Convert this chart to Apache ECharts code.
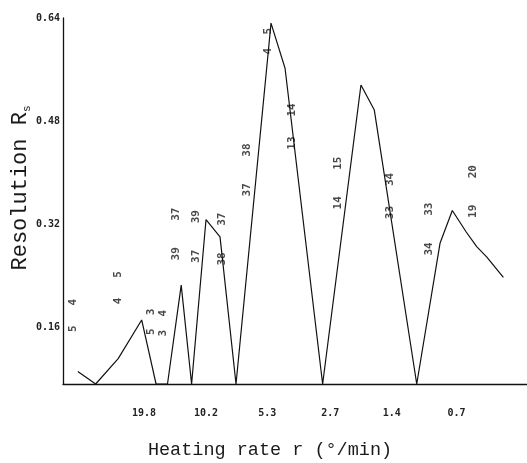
<!DOCTYPE html>
<html>
<head>
<meta charset="utf-8">
<script src="https://cdn.jsdelivr.net/npm/echarts@6/dist/echarts.min.js"></script>
<style>
  html, body { margin: 0; padding: 0; background: #ffffff; }
  #chart { width: 527px; height: 463px; }
</style>
</head>
<body>
<div id="chart"></div>
<script>
// Resolution of the critical peak pair versus heating rate (log scale, fast to slow)
const heatingRates = [40.2, 33.2, 26.1, 20.3, 17.4, 15.4, 13.3, 11.9, 10.2, 8.78, 7.40,
  5.24, 5.09, 4.38, 2.93, 1.945, 1.686, 1.071, 0.835, 0.732, 0.632, 0.564, 0.507, 0.424];
const resolution = [0.091, 0.0715, 0.111, 0.171, 0.0715, 0.0715, 0.225, 0.0715, 0.327, 0.300, 0.0715,
  0.588, 0.632, 0.562, 0.0715, 0.536, 0.497, 0.0715, 0.290, 0.341, 0.308, 0.285, 0.269, 0.237];

// Critical pair labels (compound numbers), placed at a rate / resolution position
const pairRates = [42.3, 26.1, 18.37, 16.16, 13.99, 11.39, 8.57, 6.58, 5.26, 4.045, 2.479, 1.426, 0.9395, 0.585];
const pairHeights = [0.178, 0.221, 0.168, 0.166, 0.3045, 0.3006, 0.2967, 0.404, 0.604, 0.4715, 0.3837, 0.3635, 0.3122, 0.3705];
const pairTexts = ['5   4', '4   5', '5  3', '3  4', '39    37', '37    39', '38    37', '37    38',
  '4  5', '13   14', '14    15', '33   34', '34    33', '19    20'];

// Axis ticks
const rateTicks = [19.8, 10.2, 5.3, 2.7, 1.4, 0.7];
const resolutionTicks = [0.16, 0.32, 0.48, 0.64];

const lineData = heatingRates.map((r, i) => [r, resolution[i]]);
const pairData = pairRates.map((r, i) => ({ value: [r, pairHeights[i]], text: pairTexts[i] }));

const chart = echarts.init(document.getElementById('chart'), null, { renderer: 'canvas' });

chart.setOption({
  animation: false,
  backgroundColor: '#ffffff',
  grid: { left: 63, right: 0, top: 18, bottom: 79, containLabel: false, outerBoundsMode: 'none' },
  xAxis: {
    type: 'log',
    inverse: true,
    min: 0.3293,
    max: 47.09,
    name: 'Heating rate r (\u00b0/min)',
    nameLocation: 'middle',
    nameGap: 57,
    nameMoveOverlap: false,
    nameTextStyle: {
      fontFamily: 'Liberation Mono', fontSize: 18.5, color: '#1a1a1a',
      padding: [0, 50, 0, 0]
    },
    axisLine: { show: true, lineStyle: { color: '#111', width: 1.3 } },
    axisTick: { show: false },
    splitLine: { show: false },
    minorTick: { show: false },
    axisLabel: {
      customValues: rateTicks,
      margin: 24,
      fontFamily: 'DejaVu Sans Mono', fontSize: 10, fontWeight: 'bold', color: '#222',
      formatter: v => String(+(+v).toFixed(1))
    }
  },
  yAxis: {
    type: 'value',
    min: 0.0715,
    max: 0.64,
    name: '{t|Resolution R}{sub|s}',
    nameLocation: 'middle',
    nameRotate: 90,
    nameGap: 30,
    nameMoveOverlap: false,
    nameTextStyle: {
      padding: [0, 0, 0, 26],
      rich: {
        t: { fontFamily: 'Liberation Mono', fontSize: 22, color: '#1a1a1a', lineHeight: 26 },
        sub: { fontFamily: 'Liberation Mono', fontSize: 11, color: '#1a1a1a', verticalAlign: 'bottom', lineHeight: 16 }
      }
    },
    axisLine: { show: true, lineStyle: { color: '#111', width: 1.3 } },
    axisTick: { show: false },
    splitLine: { show: false },
    axisLabel: {
      customValues: resolutionTicks,
      margin: 3,
      fontFamily: 'DejaVu Sans Mono', fontSize: 10, fontWeight: 'bold', color: '#222',
      formatter: v => (+v).toFixed(2)
    }
  },
  series: [
    {
      type: 'line',
      data: lineData,
      showSymbol: false,
      symbol: 'none',
      lineStyle: { color: '#111', width: 1.2 },
      silent: true
    },
    {
      type: 'scatter',
      data: pairData,
      symbolSize: 0,
      silent: true,
      label: {
        show: true,
        position: 'inside',
        rotate: 90,
        align: 'center',
        verticalAlign: 'middle',
        fontFamily: 'DejaVu Sans Mono',
        fontSize: 11,
        fontWeight: 'bold',
        color: '#1a1a1a',
        formatter: p => p.data.text
      }
    }
  ]
});
</script>
</body>
</html>
